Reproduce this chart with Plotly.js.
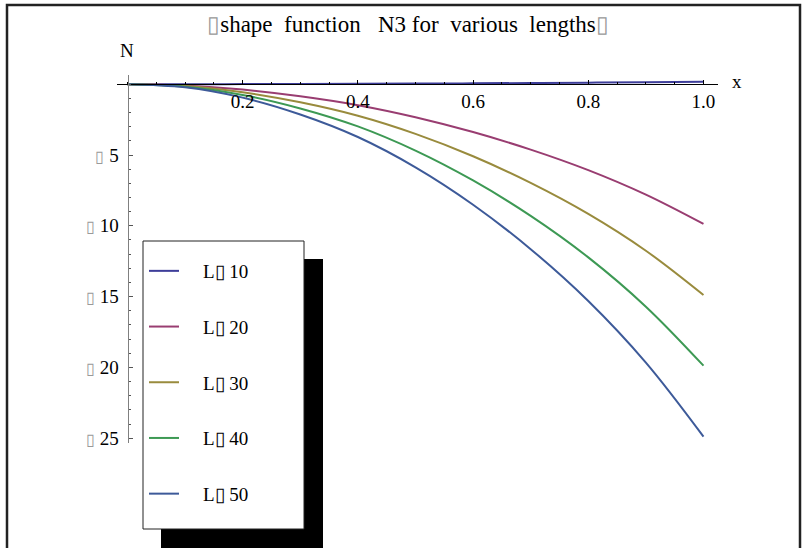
<!DOCTYPE html>
<html>
<head>
<meta charset="utf-8">
<script src="https://cdn.plot.ly/plotly-3.0.1.min.js"></script>
<style>
  html, body { margin: 0; padding: 0; background: #fff; }
  #chart { width: 802px; height: 548px; }
</style>
</head>
<body>
<div id="chart"></div>
<script>
// ---- data ----
const xValues = [0, 0.1, 0.2, 0.3, 0.4, 0.5, 0.6, 0.7, 0.8, 0.9, 1.0];
const seriesNames = ["L\u25AF 10", "L\u25AF 20", "L\u25AF 30", "L\u25AF 40", "L\u25AF 50"];
const nL10 = [0, 0.002, 0.007, 0.015, 0.027, 0.042, 0.062, 0.084, 0.111, 0.142, 0.18];
const nL20 = [0, -0.09, -0.38, -0.85, -1.48, -2.33, -3.38, -4.62, -6.07, -7.80, -9.87];
const nL30 = [0, -0.13, -0.57, -1.28, -2.23, -3.51, -5.09, -6.97, -9.16, -11.76, -14.89];
const nL40 = [0, -0.18, -0.76, -1.71, -2.98, -4.69, -6.80, -9.30, -12.23, -15.71, -19.88];
const nL50 = [0, -0.22, -0.95, -2.14, -3.73, -5.87, -8.51, -11.65, -15.31, -19.66, -24.89];
const xTickVals = [0.2, 0.4, 0.6, 0.8, 1.0];
const xTickText = ["0.2", "0.4", "0.6", "0.8", "1.0"];
const yTickVals = [-5, -10, -15, -20, -25];
const yTickText = ["5", "10", "15", "20", "25"];

const colors = ["#3d3d99", "#993d71", "#998b3d", "#3d9954", "#3d5a99"];
const seriesData = [nL10, nL20, nL30, nL40, nL50];

const W = 802, H = 548;
const px = p => p / W;
const py = p => 1 - p / H;

const serif = "Liberation Serif";
const pad = "\u00A0\u00A0\u00A0\u00A0";

const traces = seriesData.map((ys, i) => ({
  type: "scatter",
  mode: "lines",
  x: xValues,
  y: ys,
  name: pad + seriesNames[i],
  legendgroup: "g" + i,
  line: { color: colors[i], width: 2, shape: "spline" },
  hoverinfo: "skip"
}));

const layout = {
  width: W,
  height: H,
  margin: { l: 0, r: 0, t: 0, b: 0, pad: 0 },
  paper_bgcolor: "#ffffff",
  plot_bgcolor: "rgba(0,0,0,0)",
  showlegend: true,
  title: {
    text: "<span style='color:#999'>\u25AF</span>shape\u00A0\u00A0function\u00A0\u00A0\u00A0N3\u00A0for\u00A0\u00A0various\u00A0\u00A0lengths<span style='color:#999'>\u25AF</span>",
    font: { family: serif, size: 23, color: "#000" },
    x: px(408), xanchor: "center", xref: "paper",
    y: py(24), yanchor: "middle", yref: "paper"
  },
  xaxis: {
    domain: [px(117), px(718)],
    range: [-0.0182, 1.0252],
    anchor: "free",
    position: py(84.2),
    showgrid: false,
    zeroline: false,
    showline: true,
    linecolor: "#000",
    linewidth: 1,
    ticks: "inside",
    ticklen: 4,
    tickwidth: 1,
    tickcolor: "#000",
    tickmode: "array",
    tickvals: xTickVals,
    ticktext: xTickText,
    tickfont: { family: serif, size: 19, color: "#000" },
    minor: { tickmode: "linear", tick0: 0, dtick: 0.05, ticks: "inside", ticklen: 2.5, tickcolor: "#000", tickwidth: 1, showgrid: false },
    fixedrange: true
  },
  yaxis: {
    domain: [py(443), py(75)],
    range: [-25.34, 0.65],
    anchor: "free",
    position: px(127.5),
    showgrid: false,
    zeroline: false,
    showline: true,
    linecolor: "#808080",
    linewidth: 1,
    ticks: "inside",
    ticklen: 4,
    tickwidth: 1,
    tickcolor: "#555",
    tickmode: "array",
    tickvals: yTickVals,
    ticktext: yTickText.map(t => "<span style='color:#999;font-size:16px'>\u25AF</span> " + t),
    tickfont: { family: serif, size: 19, color: "#000" },
    ticklabelstandoff: 5,
    minor: { tickmode: "linear", tick0: 0, dtick: 1, ticks: "inside", ticklen: 2.5, tickcolor: "#555", tickwidth: 1, showgrid: false },
    fixedrange: true
  },
  legend: {
    x: px(144), xanchor: "left",
    y: py(252), yanchor: "top",
    bgcolor: "rgba(0,0,0,0)",
    borderwidth: 0,
    font: { family: serif, size: 19, color: "#000" },
    tracegroupgap: 28,
    itemwidth: 30,
    traceorder: "grouped"
  },
  shapes: [
    // outer frame
    { type: "rect", xref: "paper", yref: "paper", x0: px(7), x1: px(800), y0: -0.1, y1: py(5),
      line: { color: "#222", width: 2.5 }, fillcolor: "rgba(0,0,0,0)", layer: "above" },
    // legend drop shadow
    { type: "rect", xref: "paper", yref: "paper", x0: px(161), x1: px(323), y0: -0.05, y1: py(259),
      line: { width: 0 }, fillcolor: "#000", layer: "above" },
    // legend box
    { type: "rect", xref: "paper", yref: "paper", x0: px(143), x1: px(304), y0: py(529), y1: py(241),
      line: { color: "#222", width: 1 }, fillcolor: "#fff", layer: "above" }
  ],
  annotations: [
    { text: "N", xref: "paper", yref: "paper", x: px(127), y: py(50), xanchor: "center", yanchor: "middle",
      showarrow: false, font: { family: serif, size: 19, color: "#000" } },
    { text: "x", xref: "paper", yref: "paper", x: px(737), y: py(82), xanchor: "center", yanchor: "middle",
      showarrow: false, font: { family: serif, size: 19, color: "#000" } }
  ]
};

Plotly.newPlot("chart", traces, layout, { displayModeBar: false, staticPlot: true });
</script>
</body>
</html>
